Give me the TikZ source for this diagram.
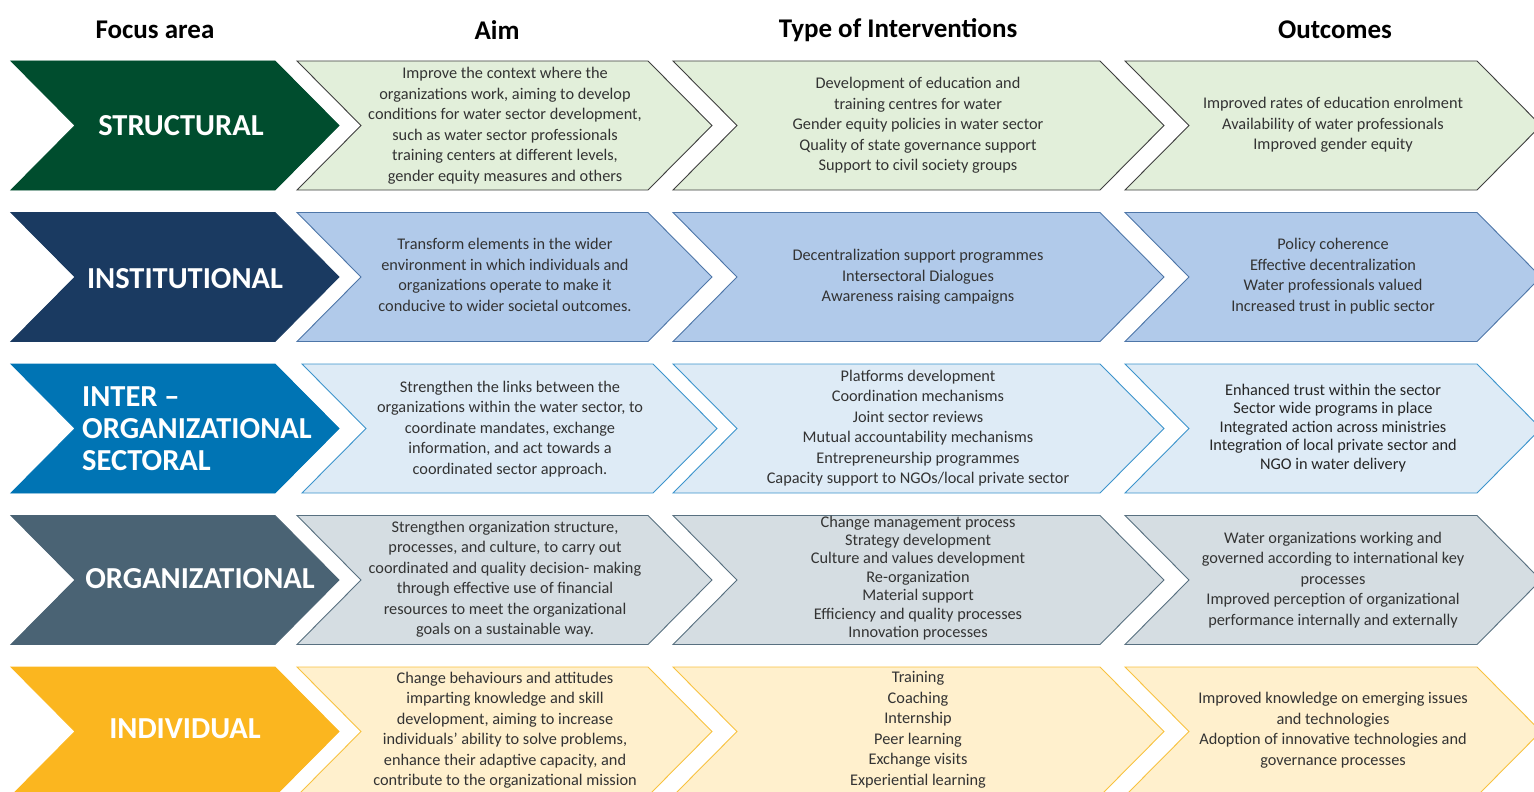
\documentclass[tikz,border=0pt]{standalone}
\usepackage{fontspec}
\setmainfont{Carlito}

% row palettes: dark arrow, light fill, light outline
\definecolor{strD}{HTML}{004D2E}\definecolor{strL}{HTML}{E2EFDA}\definecolor{strB}{HTML}{3F3F3F}
\definecolor{insD}{HTML}{1A3A61}\definecolor{insL}{HTML}{B1CAEA}\definecolor{insB}{HTML}{4E76A8}
\definecolor{intD}{HTML}{0074B4}\definecolor{intL}{HTML}{DEEBF6}\definecolor{intB}{HTML}{3C94CC}
\definecolor{orgD}{HTML}{4A6374}\definecolor{orgL}{HTML}{D5DDE2}\definecolor{orgB}{HTML}{587080}
\definecolor{indD}{HTML}{FBB61F}\definecolor{indL}{HTML}{FFF0CD}\definecolor{indB}{HTML}{F8C240}
\definecolor{txt}{HTML}{333333}

% chevron: left x, top y, top edge length, fill, outline
\newcommand\chevr[5]{%
  \filldraw[fill=#4, draw=#5, line width=0.9pt, line join=miter]
    (#1,#2) -- ++(#3,0) -- ++(64,64.5) -- ++(-64,64.5) -- ++(-#3,0) -- ++(64,-64.5) -- cycle;}

\begin{document}
\begin{tikzpicture}[x=1pt,y=-1pt,
  body/.style={align=center, text=txt, font=\fontsize{16.3}{20.5}\selectfont, inner sep=0pt},
  tight/.style={font=\fontsize{16.3}{18.4}\selectfont},
  focuslabel/.style={text=white, font=\fontsize{30.5}{32}\selectfont\bfseries, inner sep=0pt},
  head/.style={font=\fontsize{27}{30}\selectfont\bfseries, inner sep=0pt}]
\useasboundingbox (0,0) rectangle (1534,792);
\clip (0,0) rectangle (1534,792);

% column headings
\node[head] (h1) at (155,30) {Focus area};
\node[head] (h2) at (497,30) {Aim};
\node[head] (h3) at (898,30) {Type of Interventions};
\node[head] (h4) at (1335,30) {Outcomes};

% ---------- STRUCTURAL ----------
\chevr{11}{61}{264}{strD}{strD}
\chevr{297}{61}{351}{strL}{strB}
\chevr{673}{61}{427}{strL}{strB}
\chevr{1125}{61}{352}{strL}{strB}
\node[focuslabel] (s1) at (181,125.5) {STRUCTURAL};
\node[body] (s2) at (505,125.5) {Improve the context where the\\organizations work, aiming to develop\\conditions for water sector development,\\such as water sector professionals\\training centers at different levels,\\gender equity measures and others};
\node[body] (s3) at (918,125.5) {Development of education and\\training centres for water\\Gender equity policies in water sector\\Quality of state governance support\\Support to civil society groups};
\node[body] (s4) at (1333,125) {Improved rates of education enrolment\\Availability of water professionals\\Improved gender equity};

% ---------- INSTITUTIONAL ----------
\chevr{11}{212.5}{264}{insD}{insD}
\chevr{297}{212.5}{351}{insL}{insB}
\chevr{673}{212.5}{427}{insL}{insB}
\chevr{1125}{212.5}{352}{insL}{insB}
\node[focuslabel] (n1) at (185,279) {INSTITUTIONAL};
\node[body] (n2) at (505,275) {Transform elements in the wider\\environment in which individuals and\\organizations operate to make it\\conducive to wider societal outcomes.};
\node[body] (n3) at (918,277) {Decentralization support programmes\\Intersectoral Dialogues\\Awareness raising campaigns};
\node[body] (n4) at (1333,276) {Policy coherence\\Effective decentralization\\Water professionals valued\\Increased trust in public sector};

% ---------- INTER-ORGANIZATIONAL / SECTORAL ----------
\chevr{11}{364}{264}{intD}{intD}
\chevr{302}{364}{351}{intL}{intB}
\chevr{673}{364}{427}{intL}{intB}
\chevr{1125}{364}{352}{intL}{intB}
\node[focuslabel, align=left, anchor=west] (t1) at (82,429) {INTER –\\ORGANIZATIONAL\\SECTORAL};
\node[body] (t2) at (510,429) {Strengthen the links between the\\organizations within the water sector, to\\coordinate mandates, exchange\\information, and act towards a\\coordinated sector approach.};
\node[body] (t3) at (918,428) {Platforms development\\Coordination mechanisms\\Joint sector reviews\\Mutual accountability mechanisms\\Entrepreneurship programmes\\Capacity support to NGOs/local private sector};
\node[body, tight, text=black!85] (t4) at (1333,428) {Enhanced trust within the sector\\Sector wide programs in place\\Integrated action across ministries\\Integration of local private sector and\\NGO in water delivery};

% ---------- ORGANIZATIONAL ----------
\chevr{11}{515.5}{264}{orgD}{orgD}
\chevr{297}{515.5}{351}{orgL}{orgB}
\chevr{673}{515.5}{427}{orgL}{orgB}
\chevr{1125}{515.5}{352}{orgL}{orgB}
\node[focuslabel] (o1) at (200,579) {ORGANIZATIONAL};
\node[body] (o2) at (505,579) {Strengthen organization structure,\\processes, and culture, to carry out\\coordinated and quality decision- making\\through effective use of financial\\resources to meet the organizational\\goals on a sustainable way.};
\node[body, tight] (o3) at (918,578) {Change management process\\Strategy development\\Culture and values development\\Re-organization\\Material support\\Efficiency and quality processes\\Innovation processes};
\node[body] (o4) at (1333,580) {Water organizations working and\\governed according to international key\\processes\\Improved perception of organizational\\performance internally and externally};

% ---------- INDIVIDUAL ----------
\chevr{11}{667}{264}{indD}{indD}
\chevr{297}{667}{351}{indL}{indB}
\chevr{673}{667}{427}{indL}{indB}
\chevr{1125}{667}{352}{indL}{indB}
\node[focuslabel] (i1) at (185,729) {INDIVIDUAL};
\node[body] (i2) at (505,730) {Change behaviours and attitudes\\imparting knowledge and skill\\development, aiming to increase\\individuals' ability to solve problems,\\enhance their adaptive capacity, and\\contribute to the organizational mission};
\node[body] (i3) at (918,730) {Training\\Coaching\\Internship\\Peer learning\\Exchange visits\\Experiential learning};
\node[body] (i4) at (1333,730) {Improved knowledge on emerging issues\\and technologies\\Adoption of innovative technologies and\\governance processes};
\end{tikzpicture}
\end{document}
